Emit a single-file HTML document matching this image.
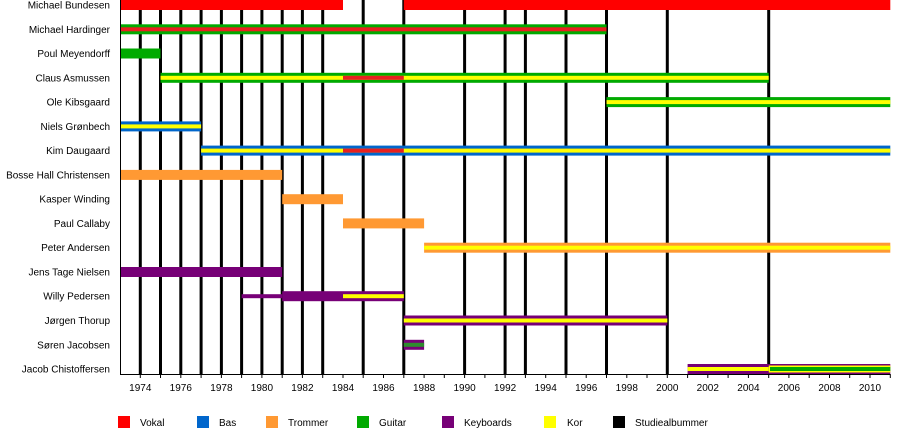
<!DOCTYPE html>
<html><head><meta charset="utf-8"><style>
html,body{margin:0;padding:0;background:#fff;width:900px;height:433px;overflow:hidden}
text{font-family:"Liberation Sans",sans-serif;font-size:10px;fill:#000}
</style></head><body>
<svg width="900" height="433" xmlns="http://www.w3.org/2000/svg">
<g stroke="#000" stroke-width="3">
<line x1="140.3" y1="0" x2="140.3" y2="374"/><line x1="160.5" y1="0" x2="160.5" y2="374"/><line x1="180.8" y1="0" x2="180.8" y2="374"/><line x1="201.1" y1="0" x2="201.1" y2="374"/><line x1="221.4" y1="0" x2="221.4" y2="374"/><line x1="241.6" y1="0" x2="241.6" y2="374"/><line x1="261.9" y1="0" x2="261.9" y2="374"/><line x1="282.2" y1="0" x2="282.2" y2="374"/><line x1="302.4" y1="0" x2="302.4" y2="374"/><line x1="322.7" y1="0" x2="322.7" y2="374"/><line x1="363.2" y1="0" x2="363.2" y2="374"/><line x1="403.8" y1="0" x2="403.8" y2="374"/><line x1="464.6" y1="0" x2="464.6" y2="374"/><line x1="505.1" y1="0" x2="505.1" y2="374"/><line x1="525.4" y1="0" x2="525.4" y2="374"/><line x1="566" y1="0" x2="566" y2="374"/><line x1="606.5" y1="0" x2="606.5" y2="374"/><line x1="667.3" y1="0" x2="667.3" y2="374"/><line x1="768.7" y1="0" x2="768.7" y2="374"/>
</g>
<!-- bars -->
<rect x="120" y="0" width="223" height="10" fill="#ff0000"/>
<rect x="403.8" y="0" width="486.5" height="10" fill="#ff0000"/>
<rect x="120" y="24.3" width="486.5" height="10" fill="#00aa00"/><rect x="120" y="27.3" width="486.5" height="4" fill="#e82020"/>
<rect x="120" y="48.5" width="40.5" height="10" fill="#00aa00"/>
<rect x="160.5" y="72.8" width="608.2" height="10" fill="#00aa00"/><rect x="160.5" y="75.8" width="608.2" height="4" fill="#ffff00"/><rect x="343" y="75.8" width="60.8" height="4" fill="#e82020"/>
<rect x="606.5" y="97.1" width="283.8" height="10" fill="#00aa00"/><rect x="606.5" y="100.1" width="283.8" height="4" fill="#ffff00"/>
<rect x="120" y="121.4" width="81.1" height="10" fill="#0066cc"/><rect x="120" y="124.4" width="81.1" height="4" fill="#ffff00"/>
<rect x="201.1" y="145.6" width="689.2" height="10" fill="#0066cc"/><rect x="201.1" y="148.6" width="689.2" height="4" fill="#ffff00"/><rect x="343" y="148.6" width="60.8" height="4" fill="#e82020"/>
<rect x="120" y="169.9" width="162.2" height="10" fill="#ff9933"/>
<rect x="282.2" y="194.2" width="60.8" height="10" fill="#ff9933"/>
<rect x="343" y="218.4" width="81.1" height="10" fill="#ff9933"/>
<rect x="424.1" y="242.7" width="466.2" height="10" fill="#ff9933"/><rect x="424.1" y="245.7" width="466.2" height="4" fill="#ffff00"/>
<rect x="120" y="267" width="162.2" height="10" fill="#770077"/>
<rect x="241.6" y="294.2" width="40.6" height="4" fill="#770077"/>
<rect x="282.2" y="291.2" width="121.6" height="10" fill="#770077"/><rect x="343" y="294.2" width="60.8" height="4" fill="#ffff00"/>
<rect x="403.8" y="315.5" width="263.5" height="10" fill="#770077"/><rect x="403.8" y="318.5" width="263.5" height="4" fill="#ffff00"/>
<rect x="403.8" y="339.8" width="20.3" height="10" fill="#770077"/><rect x="403.8" y="342.8" width="20.3" height="4" fill="#2e8b2e"/>
<rect x="687.6" y="364" width="81.1" height="10" fill="#770077"/><rect x="687.6" y="367" width="81.1" height="4" fill="#ffff00"/>
<rect x="768.7" y="364" width="121.6" height="10" fill="#770077"/><rect x="768.7" y="365.5" width="121.6" height="7" fill="#ffff00"/><rect x="770" y="367" width="120.3" height="4" fill="#00aa00"/>
<!-- axes -->
<line x1="120.5" y1="0" x2="120.5" y2="375" stroke="#000" stroke-width="1"/>
<line x1="120" y1="374.5" x2="890.3" y2="374.5" stroke="#000" stroke-width="1"/>
<g stroke="#000" stroke-width="1">
<line x1="140.3" y1="374" x2="140.3" y2="378"/><line x1="160.5" y1="374" x2="160.5" y2="378"/><line x1="180.8" y1="374" x2="180.8" y2="378"/><line x1="201.1" y1="374" x2="201.1" y2="378"/><line x1="221.4" y1="374" x2="221.4" y2="378"/><line x1="241.6" y1="374" x2="241.6" y2="378"/><line x1="261.9" y1="374" x2="261.9" y2="378"/><line x1="282.2" y1="374" x2="282.2" y2="378"/><line x1="302.4" y1="374" x2="302.4" y2="378"/><line x1="322.7" y1="374" x2="322.7" y2="378"/><line x1="343" y1="374" x2="343" y2="378"/><line x1="363.2" y1="374" x2="363.2" y2="378"/><line x1="383.5" y1="374" x2="383.5" y2="378"/><line x1="403.8" y1="374" x2="403.8" y2="378"/><line x1="424.1" y1="374" x2="424.1" y2="378"/><line x1="444.3" y1="374" x2="444.3" y2="378"/><line x1="464.6" y1="374" x2="464.6" y2="378"/><line x1="484.9" y1="374" x2="484.9" y2="378"/><line x1="505.1" y1="374" x2="505.1" y2="378"/><line x1="525.4" y1="374" x2="525.4" y2="378"/><line x1="545.7" y1="374" x2="545.7" y2="378"/><line x1="566" y1="374" x2="566" y2="378"/><line x1="586.2" y1="374" x2="586.2" y2="378"/><line x1="606.5" y1="374" x2="606.5" y2="378"/><line x1="626.8" y1="374" x2="626.8" y2="378"/><line x1="647" y1="374" x2="647" y2="378"/><line x1="667.3" y1="374" x2="667.3" y2="378"/><line x1="687.6" y1="374" x2="687.6" y2="378"/><line x1="707.8" y1="374" x2="707.8" y2="378"/><line x1="728.1" y1="374" x2="728.1" y2="378"/><line x1="748.4" y1="374" x2="748.4" y2="378"/><line x1="768.7" y1="374" x2="768.7" y2="378"/><line x1="788.9" y1="374" x2="788.9" y2="378"/><line x1="809.2" y1="374" x2="809.2" y2="378"/><line x1="829.5" y1="374" x2="829.5" y2="378"/><line x1="849.7" y1="374" x2="849.7" y2="378"/><line x1="870" y1="374" x2="870" y2="378"/><line x1="890.3" y1="374" x2="890.3" y2="378"/>
</g>
<g text-anchor="middle">
<text x="140.3" y="391">1974</text><text x="180.8" y="391">1976</text><text x="221.4" y="391">1978</text><text x="261.9" y="391">1980</text><text x="302.4" y="391">1982</text><text x="343" y="391">1984</text><text x="383.5" y="391">1986</text><text x="424.1" y="391">1988</text><text x="464.6" y="391">1990</text><text x="505.1" y="391">1992</text><text x="545.7" y="391">1994</text><text x="586.2" y="391">1996</text><text x="626.8" y="391">1998</text><text x="667.3" y="391">2000</text><text x="707.8" y="391">2002</text><text x="748.4" y="391">2004</text><text x="788.9" y="391">2006</text><text x="829.5" y="391">2008</text><text x="870" y="391">2010</text>
</g>
<g text-anchor="end">
<text x="110" y="8.5">Michael Bundesen</text>
<text x="110" y="32.8">Michael Hardinger</text>
<text x="110" y="57">Poul Meyendorff</text>
<text x="110" y="81.3">Claus Asmussen</text>
<text x="110" y="105.6">Ole Kibsgaard</text>
<text x="110" y="129.9">Niels Grønbech</text>
<text x="110" y="154.1">Kim Daugaard</text>
<text x="110" y="178.4">Bosse Hall Christensen</text>
<text x="110" y="202.7">Kasper Winding</text>
<text x="110" y="226.9">Paul Callaby</text>
<text x="110" y="251.2">Peter Andersen</text>
<text x="110" y="275.5">Jens Tage Nielsen</text>
<text x="110" y="299.7">Willy Pedersen</text>
<text x="110" y="324">Jørgen Thorup</text>
<text x="110" y="348.3">Søren Jacobsen</text>
<text x="110" y="372.5">Jacob Chistoffersen</text>
</g>
<!-- legend -->
<rect x="118" y="416" width="12" height="12" fill="#ff0000"/><text x="140" y="426">Vokal</text>
<rect x="197" y="416" width="12" height="12" fill="#0066cc"/><text x="219" y="426">Bas</text>
<rect x="266" y="416" width="12" height="12" fill="#ff9933"/><text x="288" y="426">Trommer</text>
<rect x="357" y="416" width="12" height="12" fill="#00aa00"/><text x="379" y="426">Guitar</text>
<rect x="442" y="416" width="12" height="12" fill="#770077"/><text x="464" y="426">Keyboards</text>
<rect x="544" y="416" width="12" height="12" fill="#ffff00"/><text x="567" y="426">Kor</text>
<rect x="613" y="416" width="12" height="12" fill="#000"/><text x="635" y="426">Studiealbummer</text>
</svg>
</body></html>
